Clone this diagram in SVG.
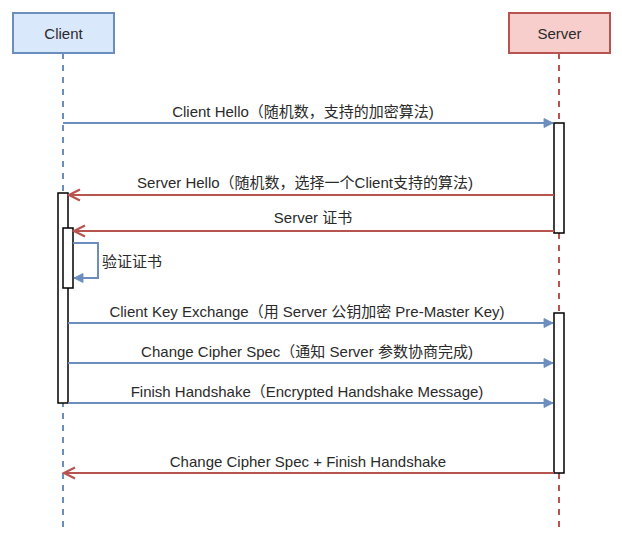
<svg xmlns="http://www.w3.org/2000/svg" width="622" height="546" viewBox="0 0 622 546">
<style>
text{font-family:"Liberation Sans","Noto Sans CJK SC",Arial,sans-serif;font-size:15px;fill:#2a2a2a}
.lbl{text-anchor:middle}
.blue{stroke:#6c8ebf;stroke-width:2;fill:none}
.red{stroke:#b85450;stroke-width:2;fill:none}
.life-b{stroke:#6c8ebf;stroke-width:2;stroke-dasharray:6 6;fill:none}
.life-r{stroke:#b85450;stroke-width:2;stroke-dasharray:6 6;fill:none}
.act{fill:#ffffff;stroke:#000000;stroke-width:1.5}
</style>
<defs>
<marker id="fb" viewBox="0 0 10 10" refX="10" refY="5" markerWidth="10" markerHeight="9" markerUnits="userSpaceOnUse" orient="auto" overflow="visible">
<path d="M0,0 L10,5 L0,10 Z" fill="#6c8ebf" stroke="#6c8ebf" stroke-width="1"/>
</marker>
<marker id="or" viewBox="0 0 10 10" refX="10" refY="5" markerWidth="11" markerHeight="12" markerUnits="userSpaceOnUse" orient="auto" overflow="visible">
<path d="M0,0 L10,5 L0,10" fill="none" stroke="#b85450" stroke-width="2"/>
</marker>
</defs>
<g id="client">
<rect x="13" y="13" width="101" height="40" fill="#dae8fc" stroke="#6c8ebf" stroke-width="2"/>
<text class="lbl" x="63.5" y="38.5">Client</text>
<line class="life-b" x1="63" y1="53" x2="63" y2="528"/>
</g>
<g id="server">
<rect x="509" y="13" width="101" height="40" fill="#f8cecc" stroke="#b85450" stroke-width="2"/>
<text class="lbl" x="559.5" y="38.5">Server</text>
<line class="life-r" x1="559" y1="53" x2="559" y2="528"/>
</g>
<g id="activations">
<rect id="server-act1" class="act" x="554" y="123" width="10" height="110"/>
<rect id="client-act1" class="act" x="58" y="193" width="10" height="210"/>
<rect id="client-act2" class="act" x="63" y="228" width="10" height="60"/>
<rect id="server-act2" class="act" x="554" y="313" width="10" height="160"/>
</g>
<g id="connectors">
<line class="blue" x1="63" y1="123" x2="553" y2="123" marker-end="url(#fb)"/>
<line class="red" x1="554" y1="195" x2="69" y2="195" marker-end="url(#or)"/>
<line class="red" x1="554" y1="231" x2="74" y2="231" marker-end="url(#or)"/>
<path class="blue" d="M73,243 H98 V278 H74" marker-end="url(#fb)"/>
<line class="blue" x1="68" y1="323" x2="553" y2="323" marker-end="url(#fb)"/>
<line class="blue" x1="68" y1="363" x2="553" y2="363" marker-end="url(#fb)"/>
<line class="blue" x1="68" y1="403" x2="553" y2="403" marker-end="url(#fb)"/>
<line class="red" x1="554" y1="473" x2="64" y2="473" marker-end="url(#or)"/>
</g>
<g id="labels">
<text class="lbl" x="303" y="117">Client Hello（随机数，支持的加密算法)</text>
<text class="lbl" x="305" y="188">Server Hello（随机数，选择一个Client支持的算法)</text>
<text class="lbl" x="313" y="223">Server 证书</text>
<text x="102" y="267">验证证书</text>
<text class="lbl" x="307" y="317">Client Key Exchange（用 Server 公钥加密 Pre-Master Key)</text>
<text class="lbl" x="307" y="357">Change Cipher Spec（通知 Server 参数协商完成)</text>
<text class="lbl" x="307" y="397">Finish Handshake（Encrypted Handshake Message)</text>
<text class="lbl" x="308" y="467">Change Cipher Spec + Finish Handshake</text>
</g>
</svg>
